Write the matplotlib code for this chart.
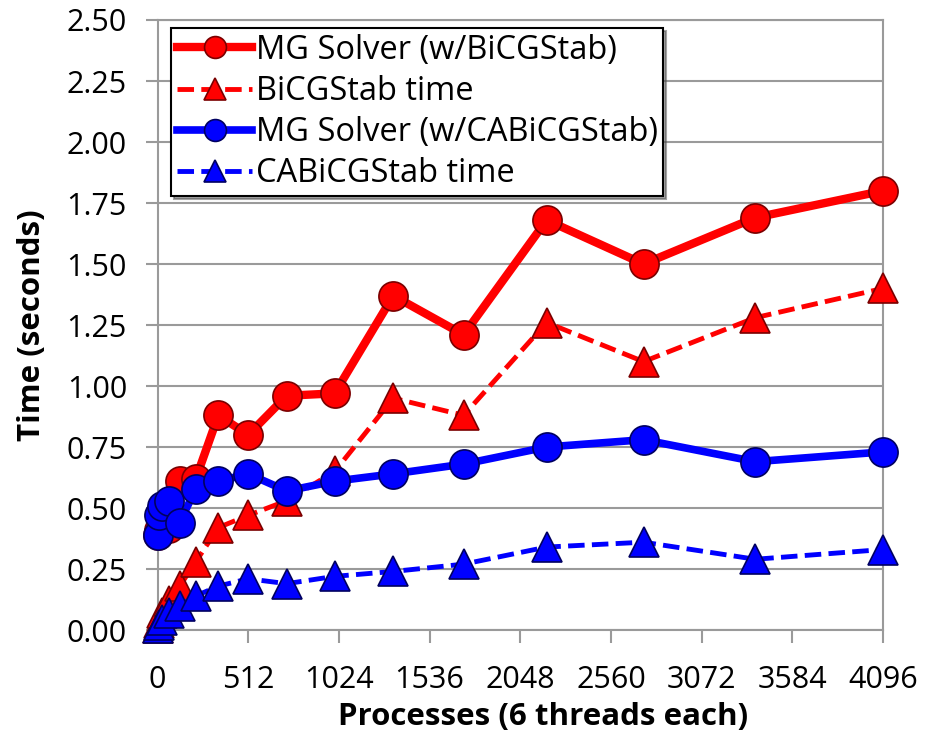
import matplotlib
matplotlib.use("Agg")
import matplotlib.pyplot as plt
import matplotlib.ticker as mticker

plt.rcParams['font.family'] = ['Open Sans', 'DejaVu Sans']

# processes = n^3, n = 1..16
processes = [1, 8, 27, 64, 125, 216, 343, 512, 729, 1000, 1331, 1728, 2197, 2744, 3375, 4096]

mgBiCGStab = [0.39, 0.41, 0.45, 0.42, 0.61, 0.62, 0.88, 0.80, 0.96, 0.97, 1.37, 1.21, 1.68, 1.50, 1.69, 1.80]
biCGStabTime = [0.01, 0.03, 0.07, 0.12, 0.18, 0.28, 0.42, 0.47, 0.53, 0.65, 0.95, 0.88, 1.26, 1.10, 1.28, 1.40]
mgCABiCGStab = [0.39, 0.47, 0.51, 0.53, 0.44, 0.58, 0.61, 0.64, 0.57, 0.61, 0.64, 0.68, 0.75, 0.78, 0.69, 0.73]
caBiCGStabTime = [0.01, 0.02, 0.04, 0.07, 0.10, 0.14, 0.18, 0.21, 0.19, 0.22, 0.24, 0.27, 0.34, 0.36, 0.29, 0.33]

xTicks = [0, 512, 1024, 1536, 2048, 2560, 3072, 3584, 4096]

fig = plt.figure(figsize=(9.27, 7.38), dpi=100)
ax = fig.add_axes([0.170, 0.1463, 0.7825, 0.8266])

gridColor = '#9a9a9a'
dash = (0, (3.4, 1.5))

ax.plot(processes, mgBiCGStab, color='#ff0000', linestyle='-', linewidth=6,
        marker='o', markersize=21, markerfacecolor='#ff0000', markeredgecolor='#7a0000',
        markeredgewidth=1.2, label='MG Solver (w/BiCGStab)', clip_on=False, zorder=4)
ax.plot(processes, biCGStabTime, color='#ff0000', linestyle=dash, linewidth=3.5,
        marker='^', markersize=21, markerfacecolor='#ff0000', markeredgecolor='#7a0000',
        markeredgewidth=1.2, label='BiCGStab time', clip_on=False, zorder=3)
ax.plot(processes, mgCABiCGStab, color='#0000ff', linestyle='-', linewidth=5.5,
        marker='o', markersize=21, markerfacecolor='#0000ff', markeredgecolor='#000060',
        markeredgewidth=1.2, label='MG Solver (w/CABiCGStab)', clip_on=False, zorder=6)
ax.plot(processes, caBiCGStabTime, color='#0000ff', linestyle=dash, linewidth=3.5,
        marker='^', markersize=21, markerfacecolor='#0000ff', markeredgecolor='#000060',
        markeredgewidth=1.2, label='CABiCGStab time', clip_on=False, zorder=5)

ax.set_xlim(0, 4096)
ax.set_ylim(0, 2.5)
ax.set_xticks(xTicks)
ax.set_yticks([i * 0.25 for i in range(11)])
ax.yaxis.set_major_formatter(mticker.FormatStrFormatter('%.2f'))
ax.tick_params(axis='both', labelsize=22, color=gridColor, width=1.5, length=9)
ax.tick_params(axis='y', pad=13)
ax.tick_params(axis='x', pad=16)

ax.grid(axis='y', color=gridColor, linewidth=1.5)
ax.set_axisbelow(True)
for side in ['left', 'right', 'top', 'bottom']:
    ax.spines[side].set_color(gridColor)
    ax.spines[side].set_linewidth(1.5)

ax.set_xlabel('Processes (6 threads each)', fontsize=22.5, fontweight='bold', labelpad=5)
ax.xaxis.label.set_x(0.531)
ax.set_ylabel('Time (seconds)', fontsize=22.5, fontweight='bold', labelpad=14)

leg = ax.legend(loc='upper left', bbox_to_anchor=(0.019, 0.987), borderaxespad=0,
                fontsize=23.5, fancybox=False, shadow=True, markerscale=0.75,
                handlelength=2.3, labelspacing=0.25, handletextpad=0.1,
                borderpad=0.18)
leg.get_frame().set_edgecolor('black')
leg.get_frame().set_linewidth(1.5)
leg.set_zorder(10)

fig.savefig('out.png', dpi=100)
